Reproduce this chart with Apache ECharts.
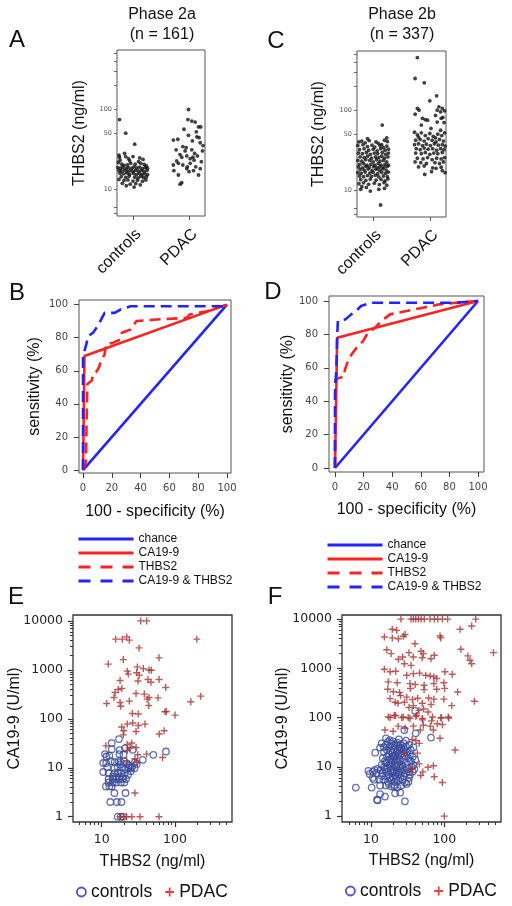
<!DOCTYPE html>
<html><head><meta charset="utf-8">
<script src="https://cdn.jsdelivr.net/npm/echarts@6/dist/echarts.min.js"></script>
<style>html,body{margin:0;padding:0;background:#fff}#c{width:512px;height:906px}</style>
</head><body><div id="c"></div>
<script>
// ---------------- DATA ----------------
const catLabels = ['controls', 'PDAC'];
const stripLabelTicks = [10, 50, 100];
const stripAllTicks = [5, 6, 10, 50, 100, 200, 300, 400, 500];
const rocTicks = [0, 20, 40, 60, 80, 100];
const scatXLabels = [10, 100];
const scatXMinor = [5, 6, 7, 8, 9, 20, 30, 40, 50, 60, 70, 80, 90, 200, 300, 400, 500];
const scatYLabels = [1, 10, 100, 1000, 10000];
const scatYMinor = [2, 3, 4, 5, 6, 7, 8, 9, 20, 30, 40, 50, 60, 70, 80, 90, 200, 300, 400, 500, 600, 700, 800, 900, 2000, 3000, 4000, 5000, 6000, 7000, 8000, 9000];

// Panel A (Phase 2a): [jitter offset from group, THBS2 ng/ml]
const aControls = [[-0.24,74],[-0.13,50],[0.03,36.5],[-0.25,26.5],[-0.24,25],[-0.15,28],[-0.13,25.5],[0.0,25.5],[-0.06,22.6],
[-0.26,21.5],[-0.2,20.5],[-0.16,19.8],[-0.1,20],[-0.04,21],[0.04,20.5],[0.1,22],[0.14,21],[0.2,20.3],[0.24,19.5],
[-0.27,18.5],[-0.22,18.2],[-0.18,18.8],[-0.12,18],[-0.08,18.5],[-0.02,18.2],[0.02,19],[0.07,18.4],[0.12,18.8],[0.17,18],[0.22,18.6],[0.26,18.2],
[-0.25,17],[-0.2,16.8],[-0.15,17.3],[-0.1,16.5],[-0.05,17],[0.0,16.6],[0.05,17.2],[0.1,16.7],[0.15,17],[0.2,16.5],[0.25,17.1],
[-0.23,15.8],[-0.17,15.5],[-0.11,15.9],[-0.06,15.3],[0.01,15.7],[0.06,15.2],[0.11,15.6],[0.16,15.1],[0.21,15.5],[0.26,15.2],
[-0.21,14.3],[-0.13,14],[-0.07,14.5],[0.03,14.1],[0.09,13.8],[0.14,14.4],[0.19,13.9],[0.24,14.2],
[-0.25,13.2],[-0.16,12.8],[-0.09,13],[0.0,12.6],[0.08,12.9],[0.17,12.5],[0.23,13],
[-0.19,11.8],[-0.05,11.5],[0.05,11.7],[0.13,11.3],[-0.12,11],[0.02,10.6],
[-0.23,23],[0.18,23.5],[0.12,24.5],[-0.08,24]];
const aPdac = [[-0.01,99],[-0.02,74],[0.05,71],[0.11,69],[0.17,60],[0.21,60],[-0.28,41],[-0.2,42],[-0.11,34],[-0.01,47],
[0.14,45],[0.18,44],[0.2,38],[0.24,30],[-0.23,31],[-0.07,30],[-0.13,25],[-0.04,26],[0.02,24],[0.07,25],[0.09,23],
[-0.19,21],[-0.11,20],[-0.03,19],[0.02,21],[0.12,19],[0.2,18],[0.17,15],[-0.28,20],[-0.27,17],[-0.19,15],[-0.13,12],
[-0.16,11.5],[-0.04,18],[0.1,28],[-0.05,33],[0.15,26],[0.05,31],[-0.16,27],[0.22,22],[0.0,16.5],[0.08,17],[-0.22,22.5],
[0.25,35],[0.13,52],[-0.09,56],[0.06,40]];

// Panel C (Phase 2b)
const cControls = [[-0.25,40],[-0.2,41],[-0.14,39],[-0.07,41.5],[0.05,40],[0.09,38.5],[0.2,42],[0.25,40.5],[0.15,37],
[-0.27,36],[-0.18,37],[-0.1,35],[-0.02,36.5],[0.03,34.5],[0.12,36],[0.18,34],[0.24,35.5],
[-0.24,32],[-0.16,33],[-0.08,31.5],[0.0,32.5],[0.07,31],[0.13,33],[0.21,31.5],[0.27,32.5],
[-0.26,29],[-0.19,28.5],[-0.12,29.5],[-0.05,28],[0.02,29],[0.08,28.5],[0.16,29.5],[0.22,28],[0.27,29],
[-0.23,26],[-0.16,25.5],[-0.1,26.5],[-0.03,25],[0.04,26],[0.1,25.5],[0.15,26.5],[0.2,25],[0.26,26],
[-0.27,23.5],[-0.2,23],[-0.13,24],[-0.06,23.5],[0.0,22.5],[0.06,24],[0.12,23],[0.18,23.5],[0.24,22.5],
[-0.24,21],[-0.17,21.5],[-0.11,20.5],[-0.04,21],[0.03,20.5],[0.09,21.5],[0.14,20.5],[0.21,21],[0.27,20.5],
[-0.26,19.5],[-0.19,19],[-0.13,19.8],[-0.07,19.2],[0.01,19.6],[0.07,19],[0.12,19.5],[0.19,19.3],[0.25,19.8],
[-0.23,18],[-0.16,17.8],[-0.09,18.3],[-0.02,17.6],[0.05,18.2],[0.11,17.7],[0.17,18.4],[0.23,17.8],
[-0.27,16.5],[-0.21,16.2],[-0.14,16.8],[-0.06,16.3],[0.0,16.6],[0.08,16],[0.15,16.7],[0.22,16.2],[0.27,16.8],
[-0.24,15],[-0.17,14.7],[-0.1,15.2],[-0.03,14.8],[0.04,15.3],[0.1,14.6],[0.18,15],[0.25,14.7],
[-0.22,13.5],[-0.13,13.2],[-0.05,13.7],[0.05,13.3],[0.14,13.6],[0.21,13],[0.26,13.8],
[-0.25,12],[-0.17,12.3],[-0.08,11.8],[0.02,12.2],[0.11,11.7],[0.19,12.4],[0.24,11.5],
[-0.2,11],[-0.12,10.8],[-0.05,9.7],[0.2,10.5],[0.1,10.2],[-0.22,10.2],[0.16,65],[0.13,6.5],[0.24,45],[-0.1,44]];
const cPdac = [[-0.22,455],[-0.26,249],[-0.1,220],[0.0,131],[0.12,151],[-0.22,105],[-0.19,100],[-0.26,89],[-0.13,79],[-0.08,76],
[-0.04,75],[0.13,100],[0.16,110],[0.19,95],[0.22,105],[0.1,86],[0.2,79],[0.23,81],[0.02,59],[0.13,71],[0.19,56],[0.26,98],[0.25,70],[-0.15,65],
[-0.27,53],[-0.22,49],[-0.15,52],[-0.08,48],[0.0,51],[0.06,47],[0.14,50],[0.21,48],[0.26,52],[-0.2,46],[0.1,45],
[-0.25,42],[-0.17,43],[-0.1,41],[-0.03,44],[0.04,42],[0.11,40],[0.17,43],[0.24,41],
[-0.27,37],[-0.2,38],[-0.13,36],[-0.06,37.5],[0.01,36],[0.08,38],[0.15,36.5],[0.22,37],[0.27,35.5],
[-0.24,33],[-0.17,32],[-0.1,33.5],[-0.03,32.5],[0.05,33],[0.12,31.5],[0.19,33],[0.25,32],
[-0.25,29],[-0.15,28.5],[-0.08,29.5],[0.0,28],[0.07,29],[0.14,28.5],[0.22,29.5],
[-0.22,25],[-0.12,24.5],[-0.04,25.5],[0.04,24],[0.12,25],[0.2,24.5],[0.26,25.5],
[-0.26,22.5],[-0.16,22],[-0.06,21.5],[0.09,22],[0.17,21.5],[0.24,22.5],
[-0.2,19.5],[0.05,19],[0.11,18.7],[0.2,19.3],[-0.1,20],[0.22,17.5],[-0.09,15.7],[0.03,17],[0.27,16.5]];

// Panel B ROC (Phase 2a): [100 - specificity, sensitivity]
const bChance = [[0,0],[100,100]];
const bCA199 = [[0,0],[1,69],[100,100]];
const bTHBS2 = [[0,0],[2,5],[2.5,30],[3,52],[6,54],[7,58],[9,59],[11,62],[12.5,66],[15,70],[16,76],[21,77],[26,79],[27,83],[33,85],[37,90],[51,91],[72,92],[74,94],[86,96],[95,98.5],[100,100]];
const bCombo = [[0,0],[0,69],[1,70],[2,75],[3.6,81],[7,83],[9,85.5],[11.8,89.7],[15,95],[22,95],[26,97],[33,99],[99,99],[100,100]];
// Panel D ROC (Phase 2b)
const dChance = [[0,0],[100,100]];
const dCA199 = [[0,0],[1.5,78],[100,100]];
const dTHBS2 = [[0,0],[0,5],[0.3,53],[3,54],[6,54.5],[7,59],[9,64],[11.6,68],[15,72],[19.6,76],[23,81],[28,84],[32.5,88],[38.4,92],[50,94],[61.5,96],[73,98],[85,99],[100,100]];
const dCombo = [[0,0],[0,45],[1,60],[1.5,78],[2,88],[7.3,89],[11.3,92],[14.7,94],[18.2,97],[22.9,98.4],[25,99],[85,99],[100,100]];

// Panel E (Phase 2a): [THBS2 ng/ml, CA19-9 U/ml]
const eControls = [[13.7,32],[17.2,38.5],[13.7,24],[11.1,19],[12.7,17.6],[11.6,17],[17.4,19],[17.6,23],[20.8,25],[26.5,23.3],[19.8,18.5],[50.6,18.4],[75.2,21.5],[36.3,14.5],[28.4,12.9],
[10.5,12.5],[11.5,12.5],[13.3,13.7],[15,13],[17,13.7],[18,13],[20,13.7],[18,11.7],[22,12],[24,11],[26,10.5],[28,9.8],[30,12],
[11.9,10.3],[23.1,10.1],[24.9,9.8],[21.1,9.5],[14.9,9.8],[16.5,10.5],[19,10.2],
[10.5,8.2],[12.4,7.8],[14.9,7.8],[16.6,7.8],[18.4,7.8],[20.5,7.8],[22.8,7.2],[25,8.5],
[14.2,6.65],[15.7,6.65],[17.4,6.65],[19.4,6.65],
[12.4,5.9],[14.2,5.9],[15.7,5.9],[17.4,5.9],[19.4,5.9],[21.5,5.9],
[12.4,5],[14.2,5],[15.7,5],[18.3,5],[20.3,5],[11.4,4.16],[12.7,4.16],[13.7,4.16],
[14.9,3.05],[21.1,3.05],[13.1,2],[16.1,2],[18.6,2],[16.6,1],[18.3,1],[19.6,1]];
const ePdac = [[34,10000],[41,10000],[15.5,4240],[19.1,4240],[21.9,4710],[23.8,4040],[198,4240],
[32.3,2810],[60.5,1760],[12.3,1310],[19.7,1620],[30.6,1150],[22.3,940],[36.9,1060],[44.2,990],[47.4,980],[23.1,820],[30,870],[32.5,780],
[17.8,605],[31.2,590],[42.7,636],[47,560],[60.5,636],[74.6,435],[16.8,396],[18.8,415],[15.2,344],[14.7,272],[29.4,328],[38.1,320],[41.8,252],[44.2,272],
[11.7,205],[17.8,215],[18.2,181],[23.8,230],[43.8,187],[58.6,268],[164,223],[224,290],
[26.2,128],[31.5,125],[73,139],[76,141],[100,119],
[18.7,68],[22.3,78],[26.5,82],[31.5,73],[38.9,78],[20,57],[29.4,55],[61,49],[71,57],[19.7,47],
[11.4,28],[22.3,30],[25.7,32],[24.3,25],[29.4,26],[22.3,22.6],[31,18.4],[41,19],[67.6,16.2],[28.4,15.3],[22,13.7],[30,12.8],
[28.4,3.05],[17.8,1],[19.7,1],[21.9,1],[25.7,1],[33.3,1],[60.5,1]];

// Panel F (Phase 2b)
const fControls = [[6.2,3.8],[12.1,2.15],[12.3,2.1],[13.3,2.8],[15.5,2.5],[21.3,2.9],[25,3.0],[29,2.0],[20.7,4],[30.5,4.5],[10.2,3.8],[32.4,5],[33,6],[13.3,4.2],
[28.5,56],[40.7,48],[65.8,39.3],[40,137],[13.3,24.6],[11.4,19.4],
[9.2,8.3],[10.6,8],[11.2,8.6],[11.9,7.5],[12.2,9.1],[9.6,7.2],[10.5,6],[11,5.5],
[14,30],[15,25],[16,28],[17,32],[18,26],[19,30],[20,33],[21,27],[22,29],[23,31],[24,25],[25,28],[26,24],[28,30],[30,26],[33,28],[35,22],[38,25],
[15,20],[16.5,22],[17.5,18],[18.5,21],[19.5,19],[20.5,23],[21.5,17],[22.5,20],[23.5,18],[24.5,22],[26,19],[27.5,21],[29,17],[31,20],[34,18],[37,16],
[14.5,15],[15.5,13],[16.5,16],[17.5,14],[18.5,12],[19,15],[20,13],[21,16],[22,14],[23,12],[24,15],[25,13],[26.5,11],[28,14],[30,12],[32,15],[35,13],[38,11],[40,14],
[14,11],[15,10],[16,12],[17,9.5],[18,11],[19,10],[20,9],[21,11],[22,10],[23,8.5],[24,10.5],[25.5,9],[27,10],[29,8.5],[31,9.5],[33,8],[36,10],[39,9],
[13.5,8.5],[14.5,7.5],[15.5,9],[16.5,8],[17.5,7],[18.5,8.5],[19.5,7.5],[20.5,8],[21.5,6.5],[22.5,7.5],[24,7],[26,8],[28,6.5],[30,7.5],[34,7],[37,8],
[14,6.5],[15,5.5],[16,6.5],[17,5],[18,6],[19,5.5],[20,6.2],[21,5],[22,5.8],[23.5,5.2],[25,6],[27,5.5],[29,4.8],[13,5.5],
[16,4.2],[17.5,4.5],[19,4],[21,4.3],[23,3.8],[26,4.2],[18,35],[16,38],[24,36],[30,34],[20,16.5],[23,22],[28,24]];
const fPdac = [[25.6,10000],[35.1,10000],[37.8,10000],[40.7,10000],[44.2,10000],[48.1,10000],[53.4,10000],[63.8,10000],[73.1,10000],[81.3,10000],[94,10000],[111,10000],[268,10000],
[19.5,6210],[22.4,5900],[164,6210],[236,7250],
[15.2,4340],[19.5,4150],[23.6,4000],[27.6,4470],[29.1,4870],[39.8,3160],[87.4,4550],[89.5,4150],
[16.4,2390],[18.8,1990],[23.6,1530],[27,1700],[32.9,2080],[37.8,1700],[48.1,2220],[51.8,1990],[65.8,1570],[73,1840],[50,1640],[168,2440],[209,1790],[224,1460],[236,1240],[468,2080],[28.5,1240],[35.2,1150],
[15.2,960],[18.2,850],[21.7,870],[30.7,725],[37.8,780],[46,800],[55.7,725],[64,700],[72,670],[78.8,620],[102,850],[128,760],
[17.2,530],[22.8,510],[34,490],[40,470],[53,455],[72,490],[98.5,510],
[16.9,376],[20.2,335],[24.5,325],[34.5,390],[53,370],[78.8,376],[101,392],[152,330],
[18.2,243],[25.3,280],[30.7,260],[36.8,232],[43.2,247],[61,250],[72,237],[98.5,237],[257,215],
[21.3,205],[23.3,196],[28.5,205],[37.8,175],[50,196],[65.8,185],[126,175],[45,140],[52,150],[60,130],[33,160],
[17.2,103],[21.6,110],[27.6,103],[34,96],[40.8,106],[50,96],[69,103],[90.5,98],[113,103],
[18.2,100],[20.8,110],[26.2,100],[32.2,100],[42,110],[50.6,90],[67,86],[90,100],[115,98],
[15.5,56],[20,53],[23.5,67],[29.2,61],[37.8,67],[47,56],[51.7,70],[64.5,67],[70.8,56],[80,75],[94,72],
[87.4,38],[140,22],[36.5,36],[45.5,30],[41,34],[43,19],[28.6,19],[45.5,11.5],[60,9.8],[71,10.5],[47.6,6.7],[72.8,6.3],[94,4.8],[100,1],[36.5,9.3],[33.7,7.9],[51,7.9]];

// ---------------- STYLE ----------------
const SANS = '"Liberation Sans", Arial, sans-serif';
const DJ = '"DejaVu Sans", Verdana, sans-serif';
const BLUE = '#2323ff', RED = '#ff2222';
const CIRC = '#3a4b9c', CROSS = '#a8322e';
const crossPath = 'path://M4,0H6V4H10V6H6V10H4V6H0V4H4Z';

const nameStyle = {fontSize: 16, fontFamily: SANS, color: '#111'};
const grids = [
  {left: 117, top: 50, width: 88, height: 166},   // A
  {left: 357, top: 51, width: 89, height: 166},   // C
  {left: 79, top: 300, width: 152, height: 173},  // B
  {left: 329, top: 296, width: 155, height: 176}, // D
  {left: 73, top: 615, width: 159, height: 207},  // E
  {left: 342, top: 615, width: 159, height: 207}  // F
].map(g => Object.assign({show: true, borderColor: '#555', borderWidth: 1, backgroundColor: 'transparent'}, g));
grids[4].borderColor = '#333'; grids[5].borderColor = '#333';
grids[4].borderWidth = 1.3; grids[5].borderWidth = 1.3;

const noLine = {show: false, onZero: false};
function stripX(gi) {
  return {type: 'value', gridIndex: gi, min: -0.285, max: 1.285, splitLine: {show: false}, axisLine: noLine,
    axisTick: {show: true, customValues: [0, 1], length: 4, lineStyle: {color: '#555'}},
    axisLabel: {customValues: [0, 1], formatter: v => catLabels[Math.round(v)], rotate: 45, margin: 10,
      verticalAlign: 'top', fontSize: 16, fontFamily: SANS, color: '#111'}};
}
function stripY(gi, gap) {
  return {type: 'log', logBase: 10, gridIndex: gi, min: 4.6, max: 550, splitLine: {show: false}, axisLine: noLine,
    axisTick: {show: true, customValues: stripAllTicks, length: 3, lineStyle: {color: '#666'}},
    axisLabel: {customValues: stripLabelTicks, formatter: v => String(v), fontSize: 6.5, fontFamily: DJ, color: '#555', margin: 5},
    name: 'THBS2 (ng/ml)', nameLocation: 'middle', nameGap: gap, nameTextStyle: nameStyle, nameMoveOverlap: false};
}
function rocAxis(gi, min, max, nm, gap, isX) {
  return {type: 'value', gridIndex: gi, min, max, splitLine: {show: false}, axisLine: noLine,
    axisTick: {show: true, customValues: rocTicks, length: 5, lineStyle: {color: '#444'}},
    axisLabel: {customValues: rocTicks, fontSize: 10, fontFamily: DJ, color: '#444', margin: isX ? 10 : 11},
    name: nm, nameLocation: 'middle', nameGap: gap, nameTextStyle: nameStyle, nameMoveOverlap: false};
}
function logAxis(gi, min, max, labels, nm, gap, isX) {
  return {type: 'log', logBase: 10, gridIndex: gi, min, max, splitLine: {show: false}, axisLine: noLine,
    axisTick: {show: true, customValues: labels, length: 5, lineStyle: {color: '#333', width: 1.2}},
    axisLabel: {customValues: labels, formatter: v => String(v), fontSize: 12.5, fontFamily: DJ, color: '#222', margin: isX ? 11 : 10},
    name: nm, nameLocation: 'middle', nameGap: gap, nameTextStyle: nameStyle, nameMoveOverlap: false};
}
function minorAxis(gi, min, max, ticks, pos) {
  return {type: 'log', logBase: 10, gridIndex: gi, min, max, position: pos, splitLine: {show: false}, axisLine: noLine,
    axisTick: {show: true, customValues: ticks, length: 3, lineStyle: {color: '#333'}}, axisLabel: {show: false}};
}

const xAxis = [
  stripX(0), stripX(1),
  rocAxis(2, -2.8, 102.8, '100 - specificity (%)', 31, true),
  rocAxis(3, -4.2, 104.2, '100 - specificity (%)', 30, true),
  logAxis(4, 4.06, 598, scatXLabels, 'THBS2 (ng/ml)', 32, true),
  logAxis(5, 4.02, 593, scatXLabels, 'THBS2 (ng/ml)', 31, true),
  minorAxis(4, 4.06, 598, scatXMinor, 'bottom'),
  minorAxis(5, 4.02, 593, scatXMinor, 'bottom')
];
const yAxis = [
  stripY(0, 29), stripY(1, 30),
  rocAxis(2, -1.8, 102.8, 'sensitivity (%)', 36, false),
  rocAxis(3, -2.4, 103, 'sensitivity (%)', 33, false),
  logAxis(4, 0.78, 13200, scatYLabels, 'CA19-9 (U/ml)', 50, false),
  logAxis(5, 0.76, 12100, scatYLabels, 'CA19-9 (U/ml)', 51, false),
  minorAxis(4, 0.78, 13200, scatYMinor, 'left'),
  minorAxis(5, 0.76, 12100, scatYMinor, 'left')
];

function strip(name, data, gi, center) {
  return {type: 'scatter', name, xAxisIndex: gi, yAxisIndex: gi, symbol: 'circle', symbolSize: 3.8,
    itemStyle: {color: '#111'}, data: data.map(p => [center + p[0], p[1]]), silent: true};
}
function roc(name, data, gi, color, dashed, z) {
  return {type: 'line', name, xAxisIndex: gi, yAxisIndex: gi, data, symbol: 'none', showSymbol: false, z,
    itemStyle: {color}, lineStyle: {color, width: 2.6, type: dashed ? [11, 6] : 'solid', cap: 'butt'}, silent: true};
}
function circ(name, data, gi) {
  return {type: 'scatter', name, xAxisIndex: gi, yAxisIndex: gi, data, symbol: 'circle', symbolSize: 6.5, z: 2,
    itemStyle: {color: 'rgba(0,0,0,0)', borderColor: CIRC, borderWidth: 1.3}, silent: true};
}
function cross(name, data, gi) {
  return {type: 'scatter', name, xAxisIndex: gi, yAxisIndex: gi, data, symbol: crossPath, symbolSize: 7, z: 3,
    itemStyle: {color: CROSS}, silent: true};
}

const series = [
  strip('A controls', aControls, 0, 0), strip('A PDAC', aPdac, 0, 1),
  strip('C controls', cControls, 1, 0), strip('C PDAC', cPdac, 1, 1),
  roc('chance', bChance, 2, BLUE, false, 2), roc('CA19-9', bCA199, 2, RED, false, 3),
  roc('THBS2', bTHBS2, 2, RED, true, 4), roc('CA19-9 & THBS2', bCombo, 2, BLUE, true, 5),
  roc('chance', dChance, 3, BLUE, false, 2), roc('CA19-9', dCA199, 3, RED, false, 3),
  roc('THBS2', dTHBS2, 3, RED, true, 4), roc('CA19-9 & THBS2', dCombo, 3, BLUE, true, 5),
  circ('controls', eControls, 4), cross('PDAC', ePdac, 4),
  circ('controls', fControls, 5), cross('PDAC', fPdac, 5)
];

function rocLegend(left, top) {
  return {orient: 'vertical', left, top, padding: 0, itemWidth: 55, itemHeight: 12, itemGap: 2, selectedMode: false,
    textStyle: {fontSize: 12, fontFamily: SANS, color: '#111'},
    itemStyle: {opacity: 0},
    data: [
      {name: 'chance', lineStyle: {color: BLUE, width: 3, type: 'solid'}},
      {name: 'CA19-9', lineStyle: {color: RED, width: 3, type: 'solid'}},
      {name: 'THBS2', lineStyle: {color: RED, width: 3, type: [12, 10]}},
      {name: 'CA19-9 & THBS2', lineStyle: {color: BLUE, width: 3, type: [12, 10]}}
    ]};
}
function scLegend(left, top) {
  return {orient: 'horizontal', left, top, padding: 0, itemWidth: 9, itemHeight: 9, itemGap: 13, selectedMode: false,
    textStyle: {fontSize: 17.5, fontFamily: SANS, color: '#111'},
    data: [
      {name: 'controls', icon: 'circle', itemStyle: {color: 'rgba(0,0,0,0)', borderColor: '#2222cc', borderWidth: 1.8}},
      {name: 'PDAC', icon: crossPath, itemStyle: {color: '#dd1111', borderWidth: 0}}
    ]};
}

function txt(text, x, y, size) {
  return {type: 'text', x, y, silent: true,
    style: {text, font: size + 'px ' + SANS, fill: '#111', align: 'center', verticalAlign: 'middle'}};
}

const option = {
  backgroundColor: '#fff',
  animation: false,
  grid: grids,
  xAxis, yAxis, series,
  legend: [rocLegend(77, 533), rocLegend(326, 539), scLegend(76, 883), scLegend(345, 882)],
  graphic: [
    txt('A', 17, 40, 24), txt('C', 276, 41, 24), txt('B', 17, 293, 24), txt('D', 273, 292, 24),
    txt('E', 16, 597, 24), txt('F', 275, 597, 24),
    txt('Phase 2a', 162, 15, 16), txt('(n = 161)', 162, 35, 16),
    txt('Phase 2b', 402, 15, 16), txt('(n = 337)', 402, 35, 16)
  ]
};
const chart = echarts.init(document.getElementById('c'), null, {renderer: 'canvas'});
chart.setOption(option);
</script></body></html>
